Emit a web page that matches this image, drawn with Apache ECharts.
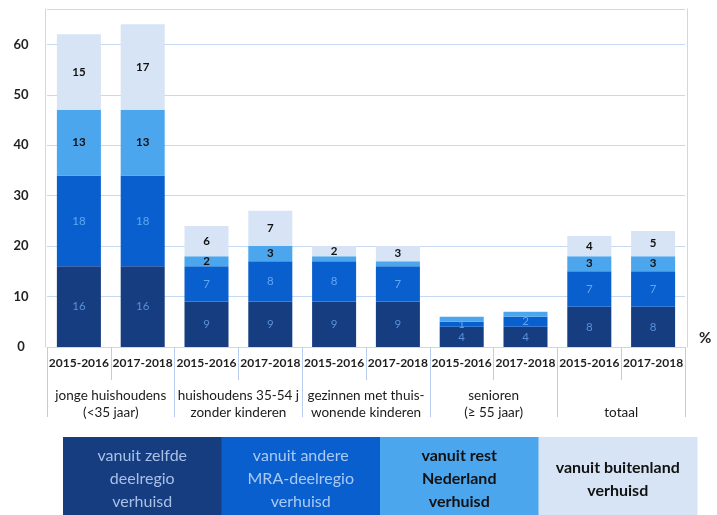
<!DOCTYPE html>
<html>
<head>
<meta charset="utf-8">
<script src="https://cdn.jsdelivr.net/npm/echarts@6/dist/echarts.min.js"></script>
<style>
  html, body { margin: 0; padding: 0; background: #fff; }
  #chart { width: 717px; height: 515px; }
</style>
</head>
<body>
<div id="chart"></div>
<script>
// Periods per household type
const years = ['2015-2016', '2017-2018', '2015-2016', '2017-2018', '2015-2016',
               '2017-2018', '2015-2016', '2017-2018', '2015-2016', '2017-2018'];
// Household types (two periods each)
const groups = ['jonge huishoudens\n(<35 jaar)', 'huishoudens 35-54 j\nzonder kinderen',
                'gezinnen met thuis-\nwonende kinderen', 'senioren\n(≥ 55 jaar)', 'totaal'];

// Share (%) by origin of the move
const zelfdeDeelregio = [16, 16, 9, 9, 9, 9, 4, 4, 8, 8];
const andereDeelregio = [18, 18, 7, 8, 8, 7, 1, 2, 7, 7];
const restNederland   = [13, 13, 2, 3, 1, 1, 1, 1, 3, 3];
const buitenland      = [15, 17, 6, 7, 2, 3, 0, 0, 4, 5];

const seriesNames = ['vanuit zelfde\ndeelregio\nverhuisd', 'vanuit andere\nMRA-deelregio\nverhuisd',
                     'vanuit rest\nNederland\nverhuisd', 'vanuit buitenland\nverhuisd'];
const seriesData = [zelfdeDeelregio, andereDeelregio, restNederland, buitenland];

const colors     = ['#163d80', '#0a5fcf', '#4ca6ee', '#d7e4f5'];
const labelColor = ['#5b8fd8', '#62a6f0', '#111111', '#111111'];
const labelBold  = ['normal', 'normal', 'bold', 'bold'];
const legendText = ['#a9c0e6', '#a8caf4', '#111111', '#111111'];
const minLabel   = [1, 1, 2, 1];

const gridColor = '#c6d8f2';
const font = 'Lato, "Open Sans", sans-serif';

const chart = echarts.init(document.getElementById('chart'), null, { renderer: 'canvas' });

const series = seriesData.map((data, i) => ({
  name: seriesNames[i],
  type: 'bar',
  stack: 'total',
  data: data,
  barWidth: '69%',
  itemStyle: { color: colors[i] },
  label: {
    show: true,
    position: 'inside',
    fontFamily: font,
    fontSize: 11.5,
    fontWeight: labelBold[i],
    color: labelColor[i],
    formatter: p => (p.value >= minLabel[i] ? String(p.value) : '')
  }
}));

// Legend as a row of coloured blocks with the names inside
const legendLeft = 63, legendWidth = 158.5, legendTop = 437, legendHeight = 86;
const legendGraphics = [];
seriesNames.forEach((name, i) => {
  legendGraphics.push({
    type: 'rect',
    left: legendLeft + i * legendWidth,
    top: legendTop,
    shape: { width: legendWidth + 0.5, height: legendHeight },
    style: { fill: colors[i] },
    silent: true
  });
  legendGraphics.push({
    type: 'text',
    x: legendLeft + i * legendWidth + legendWidth / 2,
    y: legendTop + legendHeight / 2 - 1,
    style: {
      text: name,
      fill: legendText[i],
      font: (i >= 2 ? 'bold ' : '') + '16px ' + font,
      align: 'center',
      verticalAlign: 'middle',
      lineHeight: 23
    },
    silent: true
  });
});
legendGraphics.push({
  type: 'text',
  x: 699,
  y: 331,
  style: { text: '%', fill: '#222', font: 'bold 15px ' + font },
  silent: true
});

chart.setOption({
  animation: false,
  backgroundColor: '#ffffff',
  grid: { left: 47, right: 32, top: 9, bottom: 168 },
  xAxis: [
    {
      type: 'category',
      data: years,
      axisLine: { show: true, lineStyle: { color: gridColor } },
      axisTick: { show: true, length: 33, lineStyle: { color: '#b9cdee' } },
      axisLabel: {
        interval: 0, margin: 10, fontFamily: font, fontWeight: 'bold',
        fontSize: 12, color: '#1e1e1e'
      }
    },
    {
      type: 'category',
      data: groups,
      position: 'bottom',
      axisLine: { show: false },
      axisTick: { show: true, length: 70, lineStyle: { color: '#b9cdee' } },
      axisLabel: {
        interval: 0, margin: 40, fontFamily: font, fontSize: 13.5,
        lineHeight: 17, color: '#1a1a1a',
        formatter: v => (v.indexOf('\n') >= 0 ? v : '\n' + v)
      }
    }
  ],
  yAxis: [
    {
      type: 'value',
      min: 0, max: 67, interval: 10,
      offset: 2,
      axisLine: { show: true, lineStyle: { color: gridColor } },
      axisTick: { show: false },
      axisLabel: {
        showMaxLabel: false, align: 'center', margin: 24,
        fontFamily: font, fontWeight: 'bold', fontSize: 13, color: '#222'
      },
      splitLine: { show: true, lineStyle: { color: gridColor } }
    },
    {
      type: 'value',
      position: 'right',
      min: 0, max: 67, interval: 10,
      offset: 2,
      axisLine: { show: true, lineStyle: { color: gridColor } },
      axisTick: { show: false },
      axisLabel: { show: false },
      splitLine: { show: false }
    }
  ],
  series: series,
  graphic: legendGraphics
});
</script>
</body>
</html>
